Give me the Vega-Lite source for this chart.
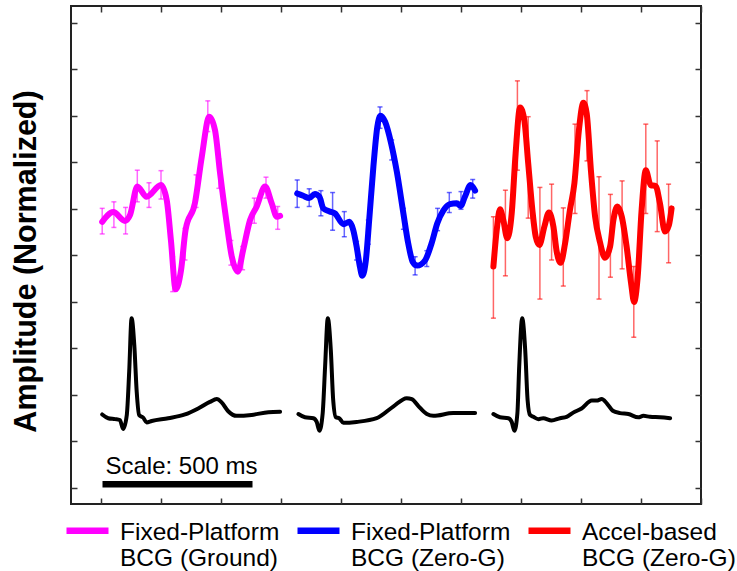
{
  "$schema": "https://vega.github.io/schema/vega-lite/v6.json",
  "width": 630,
  "height": 498,
  "autosize": {"type": "none"},
  "padding": {"left": 71, "top": 6, "right": 36, "bottom": 67},
  "background": "white",
  "datasets": {
    "bcg": [
      {"series": "Fixed-Platform|BCG (Ground)", "ms": 4, "v": 5.72},
      {"series": "Fixed-Platform|BCG (Ground)", "ms": 41, "v": 5.93},
      {"series": "Fixed-Platform|BCG (Ground)", "ms": 80, "v": 5.74},
      {"series": "Fixed-Platform|BCG (Ground)", "ms": 97, "v": 5.87},
      {"series": "Fixed-Platform|BCG (Ground)", "ms": 121, "v": 6.48},
      {"series": "Fixed-Platform|BCG (Ground)", "ms": 152, "v": 6.26},
      {"series": "Fixed-Platform|BCG (Ground)", "ms": 200, "v": 6.51},
      {"series": "Fixed-Platform|BCG (Ground)", "ms": 219, "v": 6.19},
      {"series": "Fixed-Platform|BCG (Ground)", "ms": 233, "v": 5.33},
      {"series": "Fixed-Platform|BCG (Ground)", "ms": 249, "v": 4.27},
      {"series": "Fixed-Platform|BCG (Ground)", "ms": 267, "v": 4.69},
      {"series": "Fixed-Platform|BCG (Ground)", "ms": 282, "v": 5.55},
      {"series": "Fixed-Platform|BCG (Ground)", "ms": 313, "v": 6.12},
      {"series": "Fixed-Platform|BCG (Ground)", "ms": 336, "v": 7.12},
      {"series": "Fixed-Platform|BCG (Ground)", "ms": 361, "v": 7.98},
      {"series": "Fixed-Platform|BCG (Ground)", "ms": 380, "v": 7.69},
      {"series": "Fixed-Platform|BCG (Ground)", "ms": 397, "v": 6.76},
      {"series": "Fixed-Platform|BCG (Ground)", "ms": 419, "v": 5.69},
      {"series": "Fixed-Platform|BCG (Ground)", "ms": 436, "v": 4.97},
      {"series": "Fixed-Platform|BCG (Ground)", "ms": 456, "v": 4.65},
      {"series": "Fixed-Platform|BCG (Ground)", "ms": 474, "v": 5.12},
      {"series": "Fixed-Platform|BCG (Ground)", "ms": 497, "v": 5.76},
      {"series": "Fixed-Platform|BCG (Ground)", "ms": 519, "v": 6.05},
      {"series": "Fixed-Platform|BCG (Ground)", "ms": 547, "v": 6.48},
      {"series": "Fixed-Platform|BCG (Ground)", "ms": 569, "v": 6.12},
      {"series": "Fixed-Platform|BCG (Ground)", "ms": 586, "v": 5.83},
      {"series": "Fixed-Platform|BCG (Ground)", "ms": 597, "v": 5.85},
      {"series": "Fixed-Platform|BCG (Zero-G)", "ms": 654, "v": 6.33},
      {"series": "Fixed-Platform|BCG (Zero-G)", "ms": 674, "v": 6.28},
      {"series": "Fixed-Platform|BCG (Zero-G)", "ms": 694, "v": 6.23},
      {"series": "Fixed-Platform|BCG (Zero-G)", "ms": 713, "v": 6.32},
      {"series": "Fixed-Platform|BCG (Zero-G)", "ms": 728, "v": 6.26},
      {"series": "Fixed-Platform|BCG (Zero-G)", "ms": 741, "v": 6.01},
      {"series": "Fixed-Platform|BCG (Zero-G)", "ms": 763, "v": 5.94},
      {"series": "Fixed-Platform|BCG (Zero-G)", "ms": 780, "v": 5.90},
      {"series": "Fixed-Platform|BCG (Zero-G)", "ms": 808, "v": 5.67},
      {"series": "Fixed-Platform|BCG (Zero-G)", "ms": 828, "v": 5.72},
      {"series": "Fixed-Platform|BCG (Zero-G)", "ms": 841, "v": 5.54},
      {"series": "Fixed-Platform|BCG (Zero-G)", "ms": 852, "v": 5.19},
      {"series": "Fixed-Platform|BCG (Zero-G)", "ms": 863, "v": 4.76},
      {"series": "Fixed-Platform|BCG (Zero-G)", "ms": 871, "v": 4.56},
      {"series": "Fixed-Platform|BCG (Zero-G)", "ms": 883, "v": 4.90},
      {"series": "Fixed-Platform|BCG (Zero-G)", "ms": 894, "v": 5.76},
      {"series": "Fixed-Platform|BCG (Zero-G)", "ms": 908, "v": 6.91},
      {"series": "Fixed-Platform|BCG (Zero-G)", "ms": 921, "v": 7.76},
      {"series": "Fixed-Platform|BCG (Zero-G)", "ms": 932, "v": 8.00},
      {"series": "Fixed-Platform|BCG (Zero-G)", "ms": 947, "v": 7.87},
      {"series": "Fixed-Platform|BCG (Zero-G)", "ms": 967, "v": 7.41},
      {"series": "Fixed-Platform|BCG (Zero-G)", "ms": 986, "v": 6.80},
      {"series": "Fixed-Platform|BCG (Zero-G)", "ms": 1008, "v": 5.90},
      {"series": "Fixed-Platform|BCG (Zero-G)", "ms": 1024, "v": 5.26},
      {"series": "Fixed-Platform|BCG (Zero-G)", "ms": 1039, "v": 4.86},
      {"series": "Fixed-Platform|BCG (Zero-G)", "ms": 1054, "v": 4.78},
      {"series": "Fixed-Platform|BCG (Zero-G)", "ms": 1080, "v": 4.89},
      {"series": "Fixed-Platform|BCG (Zero-G)", "ms": 1102, "v": 5.26},
      {"series": "Fixed-Platform|BCG (Zero-G)", "ms": 1121, "v": 5.69},
      {"series": "Fixed-Platform|BCG (Zero-G)", "ms": 1141, "v": 5.96},
      {"series": "Fixed-Platform|BCG (Zero-G)", "ms": 1163, "v": 6.10},
      {"series": "Fixed-Platform|BCG (Zero-G)", "ms": 1186, "v": 6.12},
      {"series": "Fixed-Platform|BCG (Zero-G)", "ms": 1199, "v": 6.06},
      {"series": "Fixed-Platform|BCG (Zero-G)", "ms": 1213, "v": 6.26},
      {"series": "Fixed-Platform|BCG (Zero-G)", "ms": 1232, "v": 6.51},
      {"series": "Fixed-Platform|BCG (Zero-G)", "ms": 1247, "v": 6.39},
      {"series": "Accel-based|BCG (Zero-G)", "ms": 1308, "v": 4.76},
      {"series": "Accel-based|BCG (Zero-G)", "ms": 1319, "v": 5.54},
      {"series": "Accel-based|BCG (Zero-G)", "ms": 1330, "v": 5.99},
      {"series": "Accel-based|BCG (Zero-G)", "ms": 1341, "v": 5.76},
      {"series": "Accel-based|BCG (Zero-G)", "ms": 1354, "v": 5.37},
      {"series": "Accel-based|BCG (Zero-G)", "ms": 1369, "v": 5.90},
      {"series": "Accel-based|BCG (Zero-G)", "ms": 1382, "v": 7.19},
      {"series": "Accel-based|BCG (Zero-G)", "ms": 1397, "v": 8.18},
      {"series": "Accel-based|BCG (Zero-G)", "ms": 1411, "v": 7.91},
      {"series": "Accel-based|BCG (Zero-G)", "ms": 1424, "v": 6.98},
      {"series": "Accel-based|BCG (Zero-G)", "ms": 1438, "v": 5.97},
      {"series": "Accel-based|BCG (Zero-G)", "ms": 1449, "v": 5.40},
      {"series": "Accel-based|BCG (Zero-G)", "ms": 1461, "v": 5.22},
      {"series": "Accel-based|BCG (Zero-G)", "ms": 1478, "v": 5.62},
      {"series": "Accel-based|BCG (Zero-G)", "ms": 1493, "v": 5.92},
      {"series": "Accel-based|BCG (Zero-G)", "ms": 1508, "v": 5.62},
      {"series": "Accel-based|BCG (Zero-G)", "ms": 1519, "v": 5.08},
      {"series": "Accel-based|BCG (Zero-G)", "ms": 1532, "v": 4.84},
      {"series": "Accel-based|BCG (Zero-G)", "ms": 1547, "v": 5.26},
      {"series": "Accel-based|BCG (Zero-G)", "ms": 1563, "v": 5.97},
      {"series": "Accel-based|BCG (Zero-G)", "ms": 1578, "v": 6.55},
      {"series": "Accel-based|BCG (Zero-G)", "ms": 1593, "v": 7.69},
      {"series": "Accel-based|BCG (Zero-G)", "ms": 1608, "v": 8.28},
      {"series": "Accel-based|BCG (Zero-G)", "ms": 1619, "v": 8.05},
      {"series": "Accel-based|BCG (Zero-G)", "ms": 1633, "v": 6.83},
      {"series": "Accel-based|BCG (Zero-G)", "ms": 1647, "v": 5.83},
      {"series": "Accel-based|BCG (Zero-G)", "ms": 1663, "v": 5.29},
      {"series": "Accel-based|BCG (Zero-G)", "ms": 1680, "v": 4.95},
      {"series": "Accel-based|BCG (Zero-G)", "ms": 1697, "v": 5.19},
      {"series": "Accel-based|BCG (Zero-G)", "ms": 1708, "v": 5.76},
      {"series": "Accel-based|BCG (Zero-G)", "ms": 1721, "v": 6.05},
      {"series": "Accel-based|BCG (Zero-G)", "ms": 1736, "v": 5.83},
      {"series": "Accel-based|BCG (Zero-G)", "ms": 1752, "v": 5.19},
      {"series": "Accel-based|BCG (Zero-G)", "ms": 1767, "v": 4.40},
      {"series": "Accel-based|BCG (Zero-G)", "ms": 1777, "v": 4.00},
      {"series": "Accel-based|BCG (Zero-G)", "ms": 1789, "v": 4.54},
      {"series": "Accel-based|BCG (Zero-G)", "ms": 1802, "v": 5.97},
      {"series": "Accel-based|BCG (Zero-G)", "ms": 1816, "v": 6.83},
      {"series": "Accel-based|BCG (Zero-G)", "ms": 1832, "v": 6.51},
      {"series": "Accel-based|BCG (Zero-G)", "ms": 1849, "v": 6.49},
      {"series": "Accel-based|BCG (Zero-G)", "ms": 1863, "v": 6.12},
      {"series": "Accel-based|BCG (Zero-G)", "ms": 1880, "v": 5.51},
      {"series": "Accel-based|BCG (Zero-G)", "ms": 1893, "v": 5.65},
      {"series": "Accel-based|BCG (Zero-G)", "ms": 1902, "v": 6.01}
    ],
    "bars": [
      {"series": "Fixed-Platform|BCG (Ground)", "ms": 4, "lo": 5.46, "hi": 6.01},
      {"series": "Fixed-Platform|BCG (Ground)", "ms": 43, "lo": 5.60, "hi": 6.15},
      {"series": "Fixed-Platform|BCG (Ground)", "ms": 82, "lo": 5.46, "hi": 6.03},
      {"series": "Fixed-Platform|BCG (Ground)", "ms": 121, "lo": 6.15, "hi": 6.83},
      {"series": "Fixed-Platform|BCG (Ground)", "ms": 160, "lo": 6.03, "hi": 6.56},
      {"series": "Fixed-Platform|BCG (Ground)", "ms": 200, "lo": 6.21, "hi": 6.82},
      {"series": "Fixed-Platform|BCG (Ground)", "ms": 239, "lo": 4.22, "hi": 4.97},
      {"series": "Fixed-Platform|BCG (Ground)", "ms": 280, "lo": 4.90, "hi": 5.58},
      {"series": "Fixed-Platform|BCG (Ground)", "ms": 317, "lo": 6.03, "hi": 6.73},
      {"series": "Fixed-Platform|BCG (Ground)", "ms": 356, "lo": 7.66, "hi": 8.32},
      {"series": "Fixed-Platform|BCG (Ground)", "ms": 393, "lo": 6.44, "hi": 7.07},
      {"series": "Fixed-Platform|BCG (Ground)", "ms": 433, "lo": 4.79, "hi": 5.32},
      {"series": "Fixed-Platform|BCG (Ground)", "ms": 472, "lo": 4.69, "hi": 5.19},
      {"series": "Fixed-Platform|BCG (Ground)", "ms": 511, "lo": 5.69, "hi": 6.23},
      {"series": "Fixed-Platform|BCG (Ground)", "ms": 550, "lo": 6.23, "hi": 6.68},
      {"series": "Fixed-Platform|BCG (Ground)", "ms": 589, "lo": 5.56, "hi": 6.05},
      {"series": "Fixed-Platform|BCG (Zero-G)", "ms": 654, "lo": 6.03, "hi": 6.62},
      {"series": "Fixed-Platform|BCG (Zero-G)", "ms": 694, "lo": 6.05, "hi": 6.43},
      {"series": "Fixed-Platform|BCG (Zero-G)", "ms": 733, "lo": 5.85, "hi": 6.39},
      {"series": "Fixed-Platform|BCG (Zero-G)", "ms": 772, "lo": 5.54, "hi": 6.35},
      {"series": "Fixed-Platform|BCG (Zero-G)", "ms": 811, "lo": 5.40, "hi": 5.94},
      {"series": "Fixed-Platform|BCG (Zero-G)", "ms": 852, "lo": 4.90, "hi": 5.30},
      {"series": "Fixed-Platform|BCG (Zero-G)", "ms": 891, "lo": 5.24, "hi": 5.76},
      {"series": "Fixed-Platform|BCG (Zero-G)", "ms": 930, "lo": 7.73, "hi": 8.19},
      {"series": "Fixed-Platform|BCG (Zero-G)", "ms": 969, "lo": 7.05, "hi": 7.48},
      {"series": "Fixed-Platform|BCG (Zero-G)", "ms": 1008, "lo": 5.56, "hi": 6.01},
      {"series": "Fixed-Platform|BCG (Zero-G)", "ms": 1047, "lo": 4.58, "hi": 4.97},
      {"series": "Fixed-Platform|BCG (Zero-G)", "ms": 1086, "lo": 4.76, "hi": 5.10},
      {"series": "Fixed-Platform|BCG (Zero-G)", "ms": 1122, "lo": 5.53, "hi": 6.01},
      {"series": "Fixed-Platform|BCG (Zero-G)", "ms": 1161, "lo": 5.92, "hi": 6.35},
      {"series": "Fixed-Platform|BCG (Zero-G)", "ms": 1200, "lo": 5.99, "hi": 6.37},
      {"series": "Fixed-Platform|BCG (Zero-G)", "ms": 1239, "lo": 6.23, "hi": 6.63},
      {"series": "Accel-based|BCG (Zero-G)", "ms": 1308, "lo": 3.65, "hi": 5.83},
      {"series": "Accel-based|BCG (Zero-G)", "ms": 1348, "lo": 4.56, "hi": 6.40},
      {"series": "Accel-based|BCG (Zero-G)", "ms": 1388, "lo": 6.83, "hi": 8.75},
      {"series": "Accel-based|BCG (Zero-G)", "ms": 1424, "lo": 5.80, "hi": 7.98},
      {"series": "Accel-based|BCG (Zero-G)", "ms": 1463, "lo": 4.06, "hi": 6.46},
      {"series": "Accel-based|BCG (Zero-G)", "ms": 1502, "lo": 4.90, "hi": 6.53},
      {"series": "Accel-based|BCG (Zero-G)", "ms": 1541, "lo": 4.34, "hi": 6.02},
      {"series": "Accel-based|BCG (Zero-G)", "ms": 1580, "lo": 5.90, "hi": 7.82},
      {"series": "Accel-based|BCG (Zero-G)", "ms": 1620, "lo": 7.03, "hi": 8.54},
      {"series": "Accel-based|BCG (Zero-G)", "ms": 1660, "lo": 4.06, "hi": 6.69},
      {"series": "Accel-based|BCG (Zero-G)", "ms": 1698, "lo": 4.53, "hi": 6.31},
      {"series": "Accel-based|BCG (Zero-G)", "ms": 1737, "lo": 4.71, "hi": 6.60},
      {"series": "Accel-based|BCG (Zero-G)", "ms": 1776, "lo": 3.24, "hi": 4.76},
      {"series": "Accel-based|BCG (Zero-G)", "ms": 1816, "lo": 5.90, "hi": 7.82},
      {"series": "Accel-based|BCG (Zero-G)", "ms": 1854, "lo": 5.51, "hi": 7.46},
      {"series": "Accel-based|BCG (Zero-G)", "ms": 1892, "lo": 4.84, "hi": 6.53}
    ],
    "ecg": [
      {"beat": 1, "ms": 4, "v": 1.58},
      {"beat": 1, "ms": 24, "v": 1.50},
      {"beat": 1, "ms": 47, "v": 1.48},
      {"beat": 1, "ms": 63, "v": 1.46},
      {"beat": 1, "ms": 74, "v": 1.27},
      {"beat": 1, "ms": 86, "v": 1.57},
      {"beat": 1, "ms": 94, "v": 2.50},
      {"beat": 1, "ms": 102, "v": 3.65},
      {"beat": 1, "ms": 111, "v": 3.07},
      {"beat": 1, "ms": 119, "v": 2.07},
      {"beat": 1, "ms": 127, "v": 1.57},
      {"beat": 1, "ms": 141, "v": 1.51},
      {"beat": 1, "ms": 152, "v": 1.41},
      {"beat": 1, "ms": 169, "v": 1.44},
      {"beat": 1, "ms": 224, "v": 1.50},
      {"beat": 1, "ms": 280, "v": 1.58},
      {"beat": 1, "ms": 324, "v": 1.71},
      {"beat": 1, "ms": 363, "v": 1.85},
      {"beat": 1, "ms": 386, "v": 1.91},
      {"beat": 1, "ms": 402, "v": 1.84},
      {"beat": 1, "ms": 424, "v": 1.65},
      {"beat": 1, "ms": 452, "v": 1.55},
      {"beat": 1, "ms": 502, "v": 1.57},
      {"beat": 1, "ms": 558, "v": 1.63},
      {"beat": 1, "ms": 597, "v": 1.64},
      {"beat": 2, "ms": 658, "v": 1.59},
      {"beat": 2, "ms": 680, "v": 1.52},
      {"beat": 2, "ms": 708, "v": 1.50},
      {"beat": 2, "ms": 719, "v": 1.42},
      {"beat": 2, "ms": 728, "v": 1.23},
      {"beat": 2, "ms": 739, "v": 1.61},
      {"beat": 2, "ms": 747, "v": 2.61},
      {"beat": 2, "ms": 756, "v": 3.65},
      {"beat": 2, "ms": 766, "v": 2.97},
      {"beat": 2, "ms": 774, "v": 1.89},
      {"beat": 2, "ms": 783, "v": 1.52},
      {"beat": 2, "ms": 794, "v": 1.50},
      {"beat": 2, "ms": 808, "v": 1.40},
      {"beat": 2, "ms": 852, "v": 1.42},
      {"beat": 2, "ms": 919, "v": 1.50},
      {"beat": 2, "ms": 974, "v": 1.75},
      {"beat": 2, "ms": 1019, "v": 1.93},
      {"beat": 2, "ms": 1036, "v": 1.91},
      {"beat": 2, "ms": 1058, "v": 1.76},
      {"beat": 2, "ms": 1086, "v": 1.59},
      {"beat": 2, "ms": 1108, "v": 1.55},
      {"beat": 2, "ms": 1174, "v": 1.61},
      {"beat": 2, "ms": 1247, "v": 1.61},
      {"beat": 3, "ms": 1308, "v": 1.59},
      {"beat": 3, "ms": 1330, "v": 1.52},
      {"beat": 3, "ms": 1358, "v": 1.50},
      {"beat": 3, "ms": 1369, "v": 1.42},
      {"beat": 3, "ms": 1378, "v": 1.23},
      {"beat": 3, "ms": 1388, "v": 1.61},
      {"beat": 3, "ms": 1394, "v": 2.61},
      {"beat": 3, "ms": 1404, "v": 3.65},
      {"beat": 3, "ms": 1414, "v": 2.97},
      {"beat": 3, "ms": 1422, "v": 1.89},
      {"beat": 3, "ms": 1430, "v": 1.57},
      {"beat": 3, "ms": 1441, "v": 1.53},
      {"beat": 3, "ms": 1458, "v": 1.48},
      {"beat": 3, "ms": 1474, "v": 1.50},
      {"beat": 3, "ms": 1502, "v": 1.45},
      {"beat": 3, "ms": 1530, "v": 1.50},
      {"beat": 3, "ms": 1552, "v": 1.53},
      {"beat": 3, "ms": 1574, "v": 1.62},
      {"beat": 3, "ms": 1602, "v": 1.71},
      {"beat": 3, "ms": 1636, "v": 1.88},
      {"beat": 3, "ms": 1652, "v": 1.88},
      {"beat": 3, "ms": 1669, "v": 1.91},
      {"beat": 3, "ms": 1686, "v": 1.82},
      {"beat": 3, "ms": 1706, "v": 1.66},
      {"beat": 3, "ms": 1730, "v": 1.61},
      {"beat": 3, "ms": 1758, "v": 1.59},
      {"beat": 3, "ms": 1791, "v": 1.52},
      {"beat": 3, "ms": 1808, "v": 1.55},
      {"beat": 3, "ms": 1830, "v": 1.53},
      {"beat": 3, "ms": 1863, "v": 1.52},
      {"beat": 3, "ms": 1897, "v": 1.50}
    ],
    "scalebar": [{"start": 5, "end": 505, "v": 0.08, "label": "Scale: 500 ms", "textms": 15, "textv": 0.3}]
  },
  "layer": [
    {
      "data": {"name": "bars"},
      "mark": {"type": "rule", "strokeWidth": 1.5, "opacity": 0.6},
      "encoding": {
        "x": {"field": "ms", "type": "quantitative", "scale": {"domain": [-100, 2000], "nice": false, "zero": false}, "axis": null},
        "y": {"field": "lo", "type": "quantitative", "scale": {"domain": [-0.344, 10.359], "nice": false, "zero": false}, "axis": null},
        "y2": {"field": "hi"},
        "color": {"field": "series", "type": "nominal", "scale": {"domain": ["Fixed-Platform|BCG (Ground)", "Fixed-Platform|BCG (Zero-G)", "Accel-based|BCG (Zero-G)"], "range": ["#ff00ff", "#0000ff", "#ff0000"]}, "legend": null}
      }
    },
    {
      "data": {"name": "bars"},
      "mark": {"type": "tick", "orient": "horizontal", "size": 5, "thickness": 1.5, "opacity": 0.6},
      "encoding": {
        "x": {"field": "ms", "type": "quantitative", "scale": {"domain": [-100, 2000], "nice": false, "zero": false}, "axis": null},
        "y": {"field": "lo", "type": "quantitative", "scale": {"domain": [-0.344, 10.359], "nice": false, "zero": false}, "axis": null},
        "color": {"field": "series", "type": "nominal", "legend": null}
      }
    },
    {
      "data": {"name": "bars"},
      "mark": {"type": "tick", "orient": "horizontal", "size": 5, "thickness": 1.5, "opacity": 0.6},
      "encoding": {
        "x": {"field": "ms", "type": "quantitative", "scale": {"domain": [-100, 2000], "nice": false, "zero": false}, "axis": null},
        "y": {"field": "hi", "type": "quantitative", "scale": {"domain": [-0.344, 10.359], "nice": false, "zero": false}, "axis": null},
        "color": {"field": "series", "type": "nominal", "legend": null}
      }
    },
    {
      "data": {"name": "bcg"},
      "mark": {"type": "line", "strokeWidth": 6, "interpolate": "monotone", "strokeCap": "round", "strokeJoin": "round"},
      "encoding": {
        "x": {"field": "ms", "type": "quantitative", "scale": {"domain": [-100, 2000], "nice": false, "zero": false},
              "axis": {"orient": "bottom", "values": [0, 200, 400, 600, 800, 1000, 1200, 1400, 1600, 1800, 2000], "labels": false, "domain": false, "grid": false, "tickSize": -6, "tickWidth": 1.5, "tickColor": "#333333", "title": null}},
        "y": {"field": "v", "type": "quantitative", "scale": {"domain": [-0.344, 10.359], "nice": false, "zero": false},
              "axis": {"orient": "left", "values": [0, 1, 2, 3, 4, 5, 6, 7, 8, 9, 10], "labels": false, "domain": false, "grid": false, "tickSize": -6, "tickWidth": 1.5, "tickColor": "#333333",
                       "title": "Amplitude (Normalized)", "titleFont": "Liberation Sans", "titleFontSize": 30.5, "titleFontWeight": "bold", "titleColor": "#000000", "titleX": -30, "titleY": 255, "titleAngle": 270, "titleBaseline": "bottom", "titleAlign": "center"}},
        "color": {"field": "series", "type": "nominal",
                  "legend": {"orient": "none", "legendX": -8, "legendY": 500, "direction": "horizontal", "title": null, "padding": 0,
                             "labelExpr": "split(datum.label, '|')", "symbolType": "stroke", "symbolStrokeWidth": 6.5, "symbolSize": 1764,
                             "labelFont": "Liberation Sans", "labelFontSize": 24.5, "labelLineHeight": 24, "labelColor": "#000000", "labelBaseline": "alphabetic",
                             "labelOffset": 8, "columnPadding": 4, "labelLimit": 0,
                             "encode": {"labels": {"update": {"dy": {"value": 9}}}}}}
      }
    },
    {
      "data": {"name": "ecg"},
      "mark": {"type": "line", "strokeWidth": 4, "color": "#000000", "interpolate": "monotone", "strokeCap": "round", "strokeJoin": "round"},
      "encoding": {
        "x": {"field": "ms", "type": "quantitative", "scale": {"domain": [-100, 2000], "nice": false, "zero": false},
              "axis": {"orient": "top", "values": [0, 200, 400, 600, 800, 1000, 1200, 1400, 1600, 1800, 2000], "labels": false, "domain": false, "grid": false, "tickSize": -6, "tickWidth": 1.5, "tickColor": "#333333", "title": null}},
        "y": {"field": "v", "type": "quantitative", "scale": {"domain": [-0.344, 10.359], "nice": false, "zero": false},
              "axis": {"orient": "right", "values": [0, 1, 2, 3, 4, 5, 6, 7, 8, 9, 10], "labels": false, "domain": false, "grid": false, "tickSize": -6, "tickWidth": 1.5, "tickColor": "#333333", "title": null}},
        "detail": {"field": "beat", "type": "nominal"}
      }
    },
    {
      "data": {"name": "scalebar"},
      "mark": {"type": "rule", "strokeWidth": 6.5, "color": "#000000"},
      "encoding": {
        "x": {"field": "start", "type": "quantitative", "scale": {"domain": [-100, 2000], "nice": false, "zero": false}, "axis": null},
        "x2": {"field": "end"},
        "y": {"field": "v", "type": "quantitative", "scale": {"domain": [-0.344, 10.359], "nice": false, "zero": false}, "axis": null}
      }
    },
    {
      "data": {"name": "scalebar"},
      "mark": {"type": "text", "align": "left", "baseline": "alphabetic", "font": "Liberation Sans", "fontSize": 24, "color": "#000000"},
      "encoding": {
        "x": {"field": "textms", "type": "quantitative", "scale": {"domain": [-100, 2000], "nice": false, "zero": false}, "axis": null},
        "y": {"field": "textv", "type": "quantitative", "scale": {"domain": [-0.344, 10.359], "nice": false, "zero": false}, "axis": null},
        "text": {"field": "label"}
      }
    }
  ],
  "resolve": {"axis": {"x": "independent", "y": "independent"}, "legend": {"color": "independent"}},
  "config": {
    "view": {"stroke": "#222222", "strokeWidth": 2},
    "font": "Liberation Sans"
  }
}
